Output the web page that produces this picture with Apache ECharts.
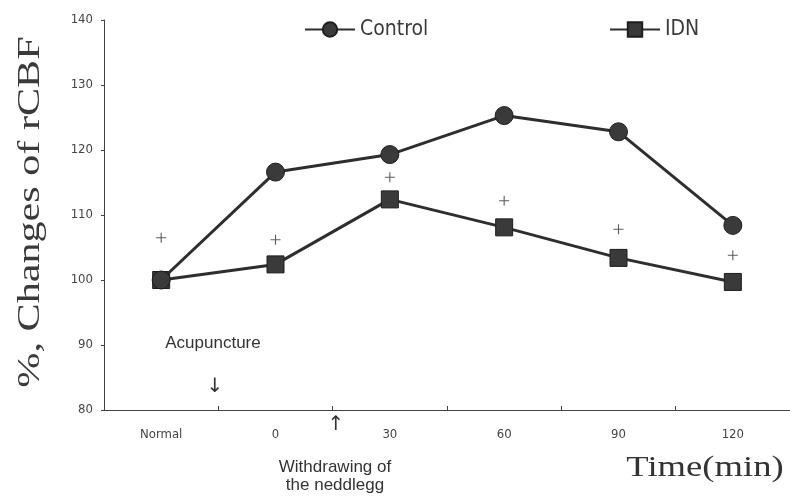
<!DOCTYPE html>
<html>
<head>
<meta charset="utf-8">
<style>
  html, body { margin: 0; padding: 0; background: #fff; }
  #chart { width: 790px; height: 501px; }
</style>
<script src="https://cdn.jsdelivr.net/npm/echarts@6/dist/echarts.min.js"></script>
</head>
<body>
<div id="chart"></div>
<script>
// Time points after acupuncture
const categories = ['Normal', '0', '30', '60', '90', '120'];
// % changes of regional cerebral blood flow
const controlValues = [100, 116.6, 119.3, 125.3, 122.8, 108.4];
const idnValues = [100, 102.4, 112.4, 108.1, 103.4, 99.7];
// significance marks (+) placed above the IDN points
const plusMarks = [106.5, 106.2, 115.8, 112.2, 107.8, 103.8];
const yTicks = { min: 80, max: 140, interval: 10 };

const narrow = "'DejaVu Sans Condensed', 'Liberation Sans Narrow', sans-serif";
const serif = "'Liberation Serif', 'DejaVu Serif', serif";
const ink = '#2e2e2e';

const chart = echarts.init(document.getElementById('chart'), null, { renderer: 'canvas' });

chart.setOption({
  animation: false,
  backgroundColor: '#ffffff',
  grid: { left: 104, right: 0, top: 20, bottom: 91, containLabel: false },
  legend: [
    {
      data: ['Control'], left: 299, top: 14, itemWidth: 50, itemHeight: 18, itemGap: 4,
      textStyle: { fontFamily: narrow, fontSize: 21, color: '#3a3a3a' }
    },
    {
      data: ['IDN'], left: 604, top: 14, itemWidth: 50, itemHeight: 18, itemGap: 4,
      textStyle: { fontFamily: narrow, fontSize: 21, color: '#3a3a3a' }
    }
  ],
  xAxis: {
    type: 'category',
    data: categories,
    boundaryGap: true,
    axisLine: { lineStyle: { color: '#444', width: 1 } },
    axisTick: { show: true, inside: true, length: 4, lineStyle: { color: '#444' } },
    axisLabel: { fontFamily: narrow, fontSize: 13, color: '#444', margin: 18 },
    splitLine: { show: false }
  },
  yAxis: {
    type: 'value',
    min: yTicks.min, max: yTicks.max, interval: yTicks.interval,
    axisLine: { show: true, lineStyle: { color: '#444', width: 1 } },
    axisTick: { show: true, length: 3, lineStyle: { color: '#444' } },
    axisLabel: { fontFamily: narrow, fontSize: 13, color: '#444', margin: 11 },
    splitLine: { show: false }
  },
  series: [
    {
      name: 'IDN', type: 'line', data: idnValues,
      symbol: 'rect', symbolSize: 17,
      lineStyle: { color: ink, width: 3 },
      itemStyle: { color: '#3a3a3a', borderColor: '#1e1e1e', borderWidth: 1 },
      z: 3
    },
    {
      name: 'Control', type: 'line', data: controlValues,
      symbol: 'circle', symbolSize: 18,
      lineStyle: { color: ink, width: 3 },
      itemStyle: { color: '#3a3a3a', borderColor: '#1e1e1e', borderWidth: 1 },
      z: 4
    },
    {
      name: 'sig', type: 'scatter', data: plusMarks,
      symbol: 'path://M4,0H5V9H4Z M0,4H9V5H0Z', symbolSize: 10,
      itemStyle: { color: '#333' },
      z: 5
    }
  ],
  graphic: [
    {
      type: 'text', x: 31, y: 212, rotation: Math.PI / 2, scaleX: 1.36,
      style: {
        text: '%, Changes of rCBF', font: '31px ' + serif, fill: '#3a3a3a',
        align: 'center', verticalAlign: 'middle'
      }
    },
    {
      type: 'text', x: 705, y: 468, scaleX: 1.22,
      style: {
        text: 'Time(min)', font: '30px ' + serif, fill: '#333',
        align: 'center', verticalAlign: 'middle'
      }
    },
    {
      type: 'text', x: 213, y: 343,
      style: {
        text: 'Acupuncture', font: '17px Liberation Sans, Arial, sans-serif', fill: '#333',
        align: 'center', verticalAlign: 'middle'
      }
    },
    {
      type: 'text', x: 215, y: 387,
      style: {
        text: '\u2193', font: '20px DejaVu Sans, sans-serif', fill: '#333',
        align: 'center', verticalAlign: 'middle'
      }
    },
    {
      type: 'text', x: 336, y: 425,
      style: {
        text: '\u2191', font: '20px DejaVu Sans, sans-serif', fill: '#333',
        align: 'center', verticalAlign: 'middle'
      }
    },
    {
      type: 'text', x: 335, y: 476,
      style: {
        text: 'Withdrawing of\nthe neddlegg', font: '17px Liberation Sans, Arial, sans-serif',
        fill: '#333', align: 'center', verticalAlign: 'middle', lineHeight: 18
      }
    }
  ]
});
</script>
</body>
</html>
